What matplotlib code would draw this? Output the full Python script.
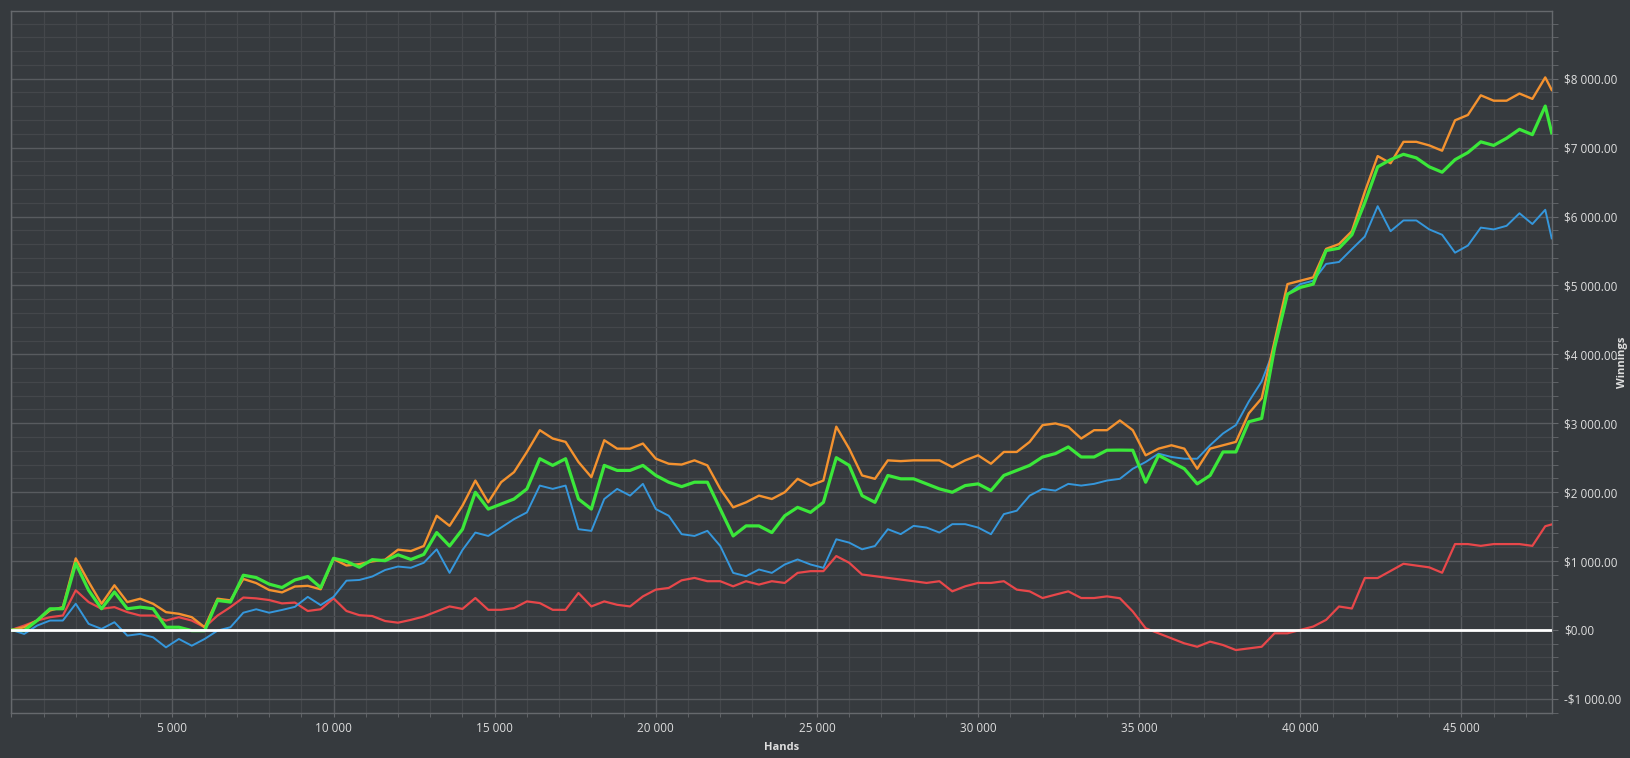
import matplotlib
matplotlib.use('Agg')
import matplotlib.pyplot as plt
from matplotlib.ticker import MultipleLocator, FuncFormatter

# hand count at each sample (every 400 hands, last one at the end of the session)
hands = list(range(0, 47601, 400)) + [47800]

# net won (orange)
net_won = [0, 39, 136, 283, 331, 1038, 697, 380, 648, 404, 453, 380, 258, 234, 185, 39, 453, 429, 740,
           680, 580, 545, 630, 640, 590, 1030, 935, 955, 995, 1020, 1165,
           1145, 1218, 1657, 1511, 1803,
           2168, 1852, 2144, 2290, 2583, 2899, 2778, 2729, 2437, 2217, 2753, 2631, 2631, 2705, 2485, 2412, 2400,
           2461, 2388, 2047, 1779, 1852, 1949, 1900, 1998, 2193, 2095, 2168, 2950, 2631, 2242, 2193, 2461, 2450,
           2461, 2461, 2461, 2364, 2461, 2534, 2412, 2583, 2583, 2729, 2972, 2997, 2948, 2778, 2899, 2899, 3040,
           2899, 2534, 2631, 2680, 2631, 2339, 2631, 2680, 2729, 3143, 3362, 4191, 5019, 5068, 5117, 5531, 5600,
           5787, 6358, 6877, 6773, 7084, 7084, 7032, 6955, 7396, 7474, 7759, 7681, 7681, 7785, 7707, 8019, 7837]

# net won after rake / bonus (green)
with_bonus = [0, -10, 136, 307, 307, 965, 575, 307, 551, 307, 331, 307, 39, 39, -10, -10, 429, 404, 794,
              760, 665, 615, 725, 775, 615, 1040, 995, 910, 1020, 1005, 1090,
              1023, 1096, 1413, 1218, 1460,
              1998, 1754, 1827, 1900, 2047, 2485, 2388, 2485, 1900, 1754, 2388, 2315, 2315, 2388, 2242, 2144, 2080,
              2144, 2144, 1754, 1364, 1510, 1510, 1413, 1657, 1779, 1706, 1852, 2500, 2388, 1949, 1852, 2242, 2193,
              2193, 2120, 2047, 1998, 2095, 2120, 2022, 2242, 2315, 2388, 2510, 2559, 2656, 2510, 2510, 2608, 2610,
              2608, 2144, 2534, 2436, 2339, 2120, 2242, 2583, 2583, 3021, 3070, 4093, 4873, 4971, 5019, 5506, 5540,
              5735, 6202, 6721, 6825, 6903, 6851, 6721, 6643, 6825, 6929, 7084, 7032, 7136, 7266, 7188, 7603, 7214]

# all-in adjusted (blue)
allin_adj = [0, -58, 63, 136, 136, 380, 88, 15, 112, -83, -58, -107, -253, -131, -229, -131, -10, 39, 250,
             300, 250, 290, 335, 480, 360, 480, 715, 725, 775, 870, 920,
             902, 975, 1170, 828, 1160,
             1413, 1364, 1486, 1608, 1706, 2095, 2047, 2095, 1462, 1438, 1900, 2047, 1949, 2120, 1754, 1657, 1390,
             1364, 1438, 1218, 828, 780, 877, 828, 950, 1023, 950, 901, 1316, 1267, 1170, 1218, 1462, 1390,
             1510, 1486, 1413, 1535, 1535, 1486, 1389, 1681, 1730, 1949, 2047, 2022, 2120, 2095, 2120, 2168, 2193,
             2339, 2437, 2558, 2510, 2485, 2485, 2680, 2851, 2973, 3314, 3606, 4093, 4873, 5019, 5068, 5312, 5340,
             5527, 5709, 6150, 5787, 5943, 5943, 5813, 5735, 5475, 5579, 5839, 5813, 5865, 6047, 5891, 6098, 5683]

# non-showdown winnings (red)
non_showdown = [0, 63, 136, 185, 209, 575, 404, 307, 331, 258, 209, 209, 136, 185, 136, 39, 209, 331, 470,
                458, 434, 385, 397, 275, 300, 458, 275, 214, 202, 129, 105,
                146, 195, 268, 341, 305,
                463, 292, 292, 317, 414, 390, 292, 292, 536, 341, 414, 365, 341, 487, 585, 609, 720,
                755, 707, 707, 633, 707, 658, 707, 682, 828, 853, 853, 1072, 975, 804, 780, 755, 731,
                707, 682, 707, 560, 633, 682, 682, 707, 585, 560, 463, 512, 560, 463, 463, 487, 460,
                268, 24, -49, -122, -195, -244, -170, -219, -292, -268, -244, -49, -49, 0, 49, 146, 340,
                311, 753, 753, 856, 960, 934, 908, 830, 1246, 1246, 1220, 1246, 1246, 1246, 1220, 1505, 1531]

BG = '#363a3e'
TXT = '#dedede'

plt.rcParams['font.family'] = ['Open Sans', 'Noto Sans', 'DejaVu Sans']


def money(v, pos):
    s = f"{abs(v):,.2f}".replace(',', ' ')
    return ('-$' if v < 0 else '$') + s


def hand_fmt(v, pos):
    if v <= 0:
        return ''
    return f"{int(v):,}".replace(',', ' ')


fig = plt.figure(figsize=(16.31, 7.58), dpi=100, facecolor=BG)
ax = fig.add_axes([11.3 / 1631, 1 - 713.3 / 758, (1551.7 - 11.3) / 1631, (713.3 - 10.5) / 758])
ax.set_facecolor(BG)

ax.plot(hands, non_showdown, color='#e8474a', lw=1.6, zorder=3)
ax.plot(hands, allin_adj, color='#3597dc', lw=1.4, zorder=3)
ax.plot(hands, net_won, color='#f4922f', lw=1.7, zorder=4)
ax.plot(hands, with_bonus, color='#3be83a', lw=2.3, zorder=5)
ax.axhline(0, color='white', lw=2.0, zorder=6)

ax.set_xlim(0, 47800)
ax.set_ylim(-1210, 8990)

ax.xaxis.set_major_locator(MultipleLocator(5000))
ax.xaxis.set_minor_locator(MultipleLocator(1000))
ax.yaxis.set_major_locator(MultipleLocator(1000))
ax.yaxis.set_minor_locator(MultipleLocator(200))
ax.xaxis.set_major_formatter(FuncFormatter(hand_fmt))
ax.yaxis.set_major_formatter(FuncFormatter(money))
ax.yaxis.tick_right()

ax.grid(which='major', color='#585b5f', lw=1.0, zorder=1)
ax.grid(which='minor', color='#44474b', lw=0.9, zorder=1)
for s in ax.spines.values():
    s.set_color('#66696d')
    s.set_linewidth(1.0)

ax.tick_params(which='both', colors='#66696d', labelcolor=TXT, labelsize=8.5)
ax.tick_params(axis='x', which='both', length=3, pad=3)
ax.tick_params(axis='y', which='both', length=4, pad=5)

fig.text(781.5 / 1631, 1 - 748 / 758, 'Hands', ha='center', va='center',
         fontsize=8, fontweight='bold', color=TXT)
fig.text(1623 / 1631, 1 - 362 / 758, 'Winnings', ha='center', va='center',
         rotation=90, fontsize=8, fontweight='bold', color=TXT)

fig.savefig('out.png', dpi=100, facecolor=BG)
